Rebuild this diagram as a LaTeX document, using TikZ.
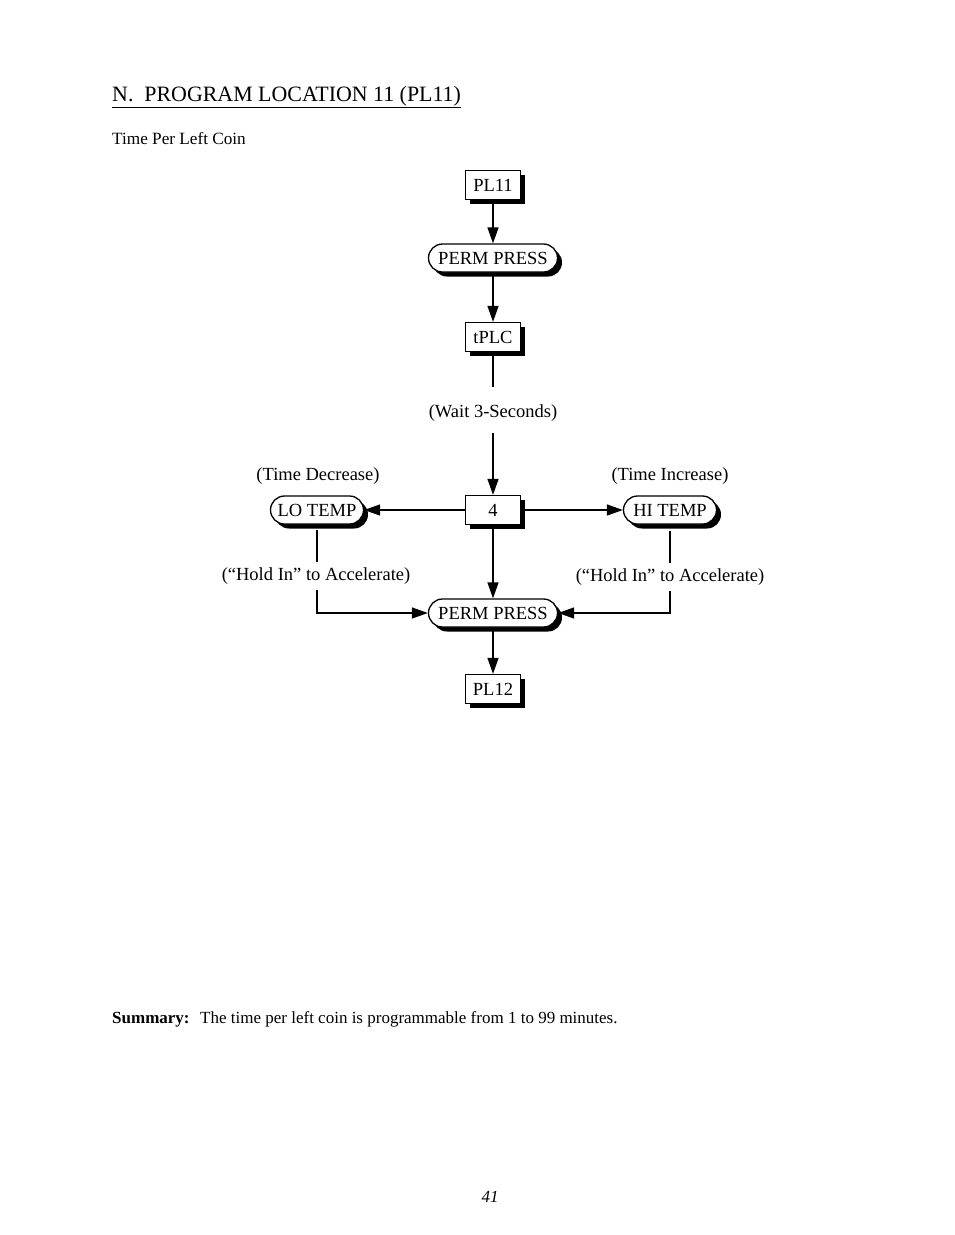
\documentclass[tikz,border=0pt]{standalone}
\usepackage{fontspec}
\setmainfont{Liberation Serif}
\usetikzlibrary{shadows,arrows.meta}
\newcommand{\dgfont}{\fontsize{18.5}{22}\selectfont}
\begin{document}
\begin{tikzpicture}[x=1pt,y=-1pt,
  box/.style={draw, fill=white, line width=1.3pt, minimum width=55pt, minimum height=29pt, inner sep=0pt, font=\dgfont,
    drop shadow={shadow xshift=4.5pt, shadow yshift=-4.5pt, fill=black, opacity=1}},
  pill/.style={box, rounded corners=14pt, minimum width=129pt, minimum height=28pt},
  lbl/.style={font=\dgfont, inner sep=0pt},
  arr/.style={-{Triangle[length=16pt,width=11pt]}, line width=1.4pt},
  ln/.style={line width=1.4pt}]
\fill[white] (0,0) rectangle (954,1235);
\useasboundingbox (0,0) rectangle (954,1235);

% header
\node[anchor=base west, inner sep=0pt, font=\fontsize{21.9}{25}\selectfont] (title) at (112,101) {\underline{N.\ \ PROGRAM LOCATION 11 (PL11)}};
\node[anchor=base west, inner sep=0pt, font=\fontsize{17.2}{20}\selectfont] (sub) at (112,144) {Time Per Left Coin};

% diagram
\node[box] (pl11) at (493,185) {PL11};
\node[pill] (pp1) at (493,258) {PERM PRESS};
\node[box] (tplc) at (493,337) {tPLC};
\coordinate (w1) at (493,387);
\node[lbl] (wait) at (493,413) {(Wait 3-Seconds)};
\coordinate (w2) at (493,433);
\node[box] (four) at (493,510) {4};
\node[pill, minimum width=93pt] (lo) at (317,510) {LO TEMP};
\node[pill, minimum width=93pt] (hi) at (670,510) {HI TEMP};
\node[lbl] (tdec) at (318,476) {(Time Decrease)};
\node[lbl] (tinc) at (670,476) {(Time Increase)};
\node[pill] (pp2) at (493,613) {PERM PRESS};
\node[box] (pl12) at (493,689) {PL12};

\coordinate (l1) at (317,530);
\coordinate (l2) at (317,562);
\node[lbl] (hlo) at (316,576) {(“Hold In” to Accelerate)};
\coordinate (l3) at (317,590);
\coordinate (r1) at (670,531);
\coordinate (r2) at (670,563);
\node[lbl] (hhi) at (670,577) {(“Hold In” to Accelerate)};
\coordinate (r3) at (670,591);

\draw[arr] (pl11) -- (pp1);
\draw[arr] (pp1) -- (tplc);
\draw[ln] (tplc.south) -- (w1);
\draw[arr] (w2) -- (four.north);
\draw[arr] (four.west) -- (lo.east);
\draw[arr] (four.east) -- (hi.west);
\draw[arr] (four.south) -- (pp2.north);
\draw[arr] (pp2) -- (pl12);
\draw[ln] (l1) -- (l2);
\draw[arr] (l3) |- (pp2.west);
\draw[ln] (r1) -- (r2);
\draw[arr] (r3) |- (pp2.east);

% footer
\node[anchor=base west, inner sep=0pt, font=\fontsize{17}{20}\selectfont] (summ) at (112,1023) {\textbf{Summary:}};
\node[anchor=base west, inner sep=0pt, font=\fontsize{17}{20}\selectfont] (stext) at (200,1023) {The time per left coin is programmable from 1 to 99 minutes.};
\node[anchor=base, inner sep=0pt, font=\fontsize{17}{20}\selectfont\itshape] (page) at (490,1202) {41};
\end{tikzpicture}
\end{document}
